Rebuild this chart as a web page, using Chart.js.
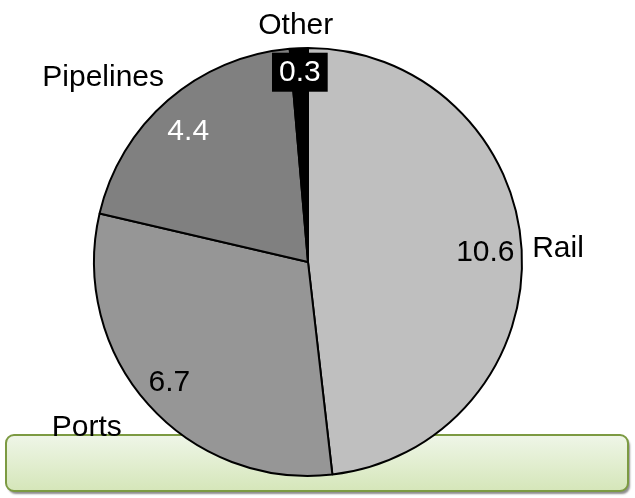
<!DOCTYPE html>
<html>
<head>
<meta charset="utf-8">
<script src="https://cdn.jsdelivr.net/npm/chart.js@4.4.1/dist/chart.umd.min.js"></script>
<style>
  html, body { margin: 0; padding: 0; background: #fff; }
  #wrap { width: 635px; height: 498px; }
</style>
</head>
<body>
<div id="wrap"><canvas id="pie" width="635" height="498"></canvas></div>
<script>
// data
const categories = ["Rail", "Ports", "Pipelines", "Other"];
const values = [10.6, 6.7, 4.4, 0.3];
const sliceColors = ["#bfbfbf", "#969696", "#808080", "#000000"];

// label placement (radius as share of pie radius, angle nudge in degrees)
const valueSpots = [
    { r: 0.83, da: 0, color: "#000" },
    { r: 0.855, da: 1, color: "#000" },
    { r: 0.83, da: -1.5, color: "#fff" },
    { r: 0.89, da: 0, color: "#fff", box: "#000" }
];
const nameSpots = [
    { r: 1.17, da: 0 },
    { r: 1.29, da: 5 },
    { r: 1.29, da: -7 },
    { r: 1.11, da: -0.5 }
];

const FONT = "30px 'Liberation Sans', Arial, sans-serif";

// green rounded bar behind the pie
const greenBar = {
    id: "greenBar",
    beforeDatasetsDraw(chart) {
        const ctx = chart.ctx;
        const x = 6, y = 435, w = 622, h = 56, rad = 8;
        ctx.save();
        ctx.shadowColor = "rgba(0,0,0,0.45)";
        ctx.shadowOffsetX = 2;
        ctx.shadowOffsetY = 3;
        ctx.shadowBlur = 2;
        const g = ctx.createLinearGradient(0, y, 0, y + h);
        g.addColorStop(0, "#eff6e8");
        g.addColorStop(1, "#d5e6b9");
        ctx.fillStyle = g;
        ctx.beginPath();
        ctx.roundRect(x, y, w, h, rad);
        ctx.fill();
        ctx.shadowColor = "transparent";
        ctx.lineWidth = 2;
        ctx.strokeStyle = "#7c9a42";
        ctx.stroke();
        ctx.restore();
    }
};

// value and category labels
const pieLabels = {
    id: "pieLabels",
    afterDatasetsDraw(chart) {
        const ctx = chart.ctx;
        const arcs = chart.getDatasetMeta(0).data;
        ctx.save();
        ctx.font = FONT;
        ctx.textBaseline = "middle";
        ctx.textAlign = "center";
        arcs.forEach((arc, i) => {
            const mid = (arc.startAngle + arc.endAngle) / 2;
            const R = arc.outerRadius;

            const vs = valueSpots[i];
            let a = mid + vs.da * Math.PI / 180;
            let px = arc.x + Math.cos(a) * R * vs.r;
            let py = arc.y + Math.sin(a) * R * vs.r;
            const txt = values[i].toFixed(1);
            if (vs.box) {
                const tw = ctx.measureText(txt).width;
                ctx.fillStyle = vs.box;
                ctx.fillRect(px - tw / 2 - 7, py - 19, tw + 14, 39);
            }
            ctx.fillStyle = vs.color;
            ctx.fillText(txt, px, py + 1);

            const ns = nameSpots[i];
            a = mid + ns.da * Math.PI / 180;
            px = arc.x + Math.cos(a) * R * ns.r;
            py = arc.y + Math.sin(a) * R * ns.r;
            ctx.fillStyle = "#000";
            ctx.fillText(categories[i], px, py + 1);
        });
        ctx.restore();
    }
};

new Chart(document.getElementById("pie"), {
    type: "pie",
    data: {
        labels: categories,
        datasets: [{
            data: values,
            backgroundColor: sliceColors,
            borderColor: "#000",
            borderWidth: 2,
            radius: 214
        }]
    },
    options: {
        responsive: false,
        animation: false,
        layout: { padding: { left: 0, right: 19, top: 26, bottom: 0 } },
        plugins: {
            legend: { display: false },
            tooltip: { enabled: false }
        }
    },
    plugins: [greenBar, pieLabels]
});
</script>
</body>
</html>
